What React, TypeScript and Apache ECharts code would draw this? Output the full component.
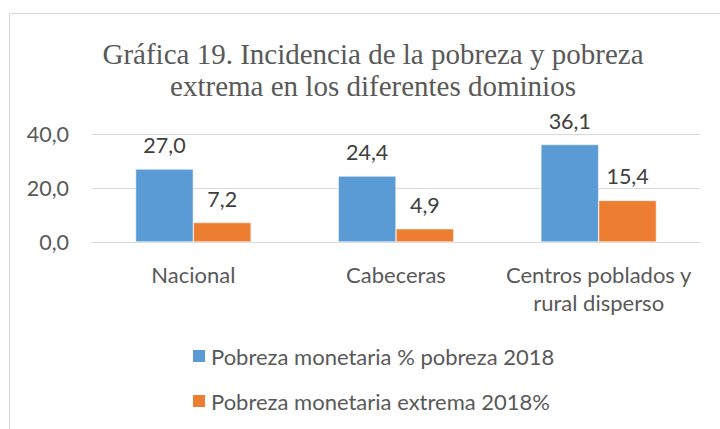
import React, { useEffect, useRef } from "react";
import * as echarts from "echarts";

const categories = ["Nacional", "Cabeceras", "Centros poblados y\nrural disperso"];
const seriesNames = ["Pobreza monetaria % pobreza 2018", "Pobreza monetaria extrema 2018%"];
const pobreza = [27.0, 24.4, 36.1];
const extrema = [7.2, 4.9, 15.4];
const yTicks = { min: 0, max: 40, interval: 20 };
const titleText = "Gráfica 19. Incidencia de la pobreza y pobreza\nextrema en los diferentes dominios";

const fmt = (v: number) => v.toFixed(1).replace(".", ",");

export default function App() {
  const ref = useRef<HTMLDivElement>(null);
  useEffect(() => {
    if (!ref.current) return;
    const chart = echarts.init(ref.current, null, { renderer: "svg" });
    const font = "Lato";
    const labelStyle = {
      show: true,
      position: "top",
      distance: 13,
      fontFamily: font,
      fontSize: 21.5,
      color: "#404040",
      formatter: (p: any) => fmt(p.value),
    };
    chart.setOption({
      animation: false,
      backgroundColor: "#ffffff",
      graphic: [
        {
          type: "rect",
          shape: { x: 9.5, y: 13.5, width: 900, height: 600 },
          style: { fill: "none", stroke: "#d9d9d9", lineWidth: 1 },
          silent: true,
        },
      ],
      title: {
        text: titleText,
        left: 368,
        textAlign: "center",
        top: 33,
        textStyle: {
          fontFamily: "Liberation Serif",
          fontSize: 29,
          fontWeight: "normal",
          color: "#595959",
          lineHeight: 32,
        },
      },
      legend: {
        orient: "vertical",
        left: 191,
        top: 345,
        padding: 0,
        itemWidth: 14,
        itemHeight: 14,
        itemGap: 23,
        icon: "rect",
        textStyle: { fontFamily: font, fontSize: 22, color: "#595959" },
        data: seriesNames,
      },
      grid: { left: 92, right: 20, top: 134, height: 108 },
      xAxis: {
        type: "category",
        data: categories,
        axisLine: { show: true, lineStyle: { color: "#d9d9d9", width: 1 } },
        axisTick: { show: false },
        axisLabel: {
          interval: 0,
          fontFamily: font,
          fontSize: 22,
          color: "#595959",
          margin: 18,
          lineHeight: 28,
        },
      },
      yAxis: {
        type: "value",
        min: yTicks.min,
        max: yTicks.max,
        interval: yTicks.interval,
        axisLine: { show: false },
        axisTick: { show: false },
        splitLine: { lineStyle: { color: "#d9d9d9", width: 1 } },
        axisLabel: {
          fontFamily: font,
          fontSize: 21.5,
          color: "#595959",
          margin: 23,
          formatter: (v: number) => fmt(v),
        },
      },
      series: [
        {
          name: seriesNames[0],
          type: "bar",
          data: pobreza,
          barGap: "0%",
          barCategoryGap: "43%",
          itemStyle: { color: "#5b9bd5", borderColor: "#ffffff", borderWidth: 0.5 },
          label: labelStyle,
        },
        {
          name: seriesNames[1],
          type: "bar",
          data: extrema,
          barGap: "0%",
          barCategoryGap: "43%",
          itemStyle: { color: "#ed7d31", borderColor: "#ffffff", borderWidth: 0.5 },
          label: labelStyle,
        },
      ],
    });
    return () => chart.dispose();
  }, []);
  return (
    <div
      ref={ref}
      style={{ position: "fixed", left: 0, top: 0, width: 720, height: 429 }}
    />
  );
}
